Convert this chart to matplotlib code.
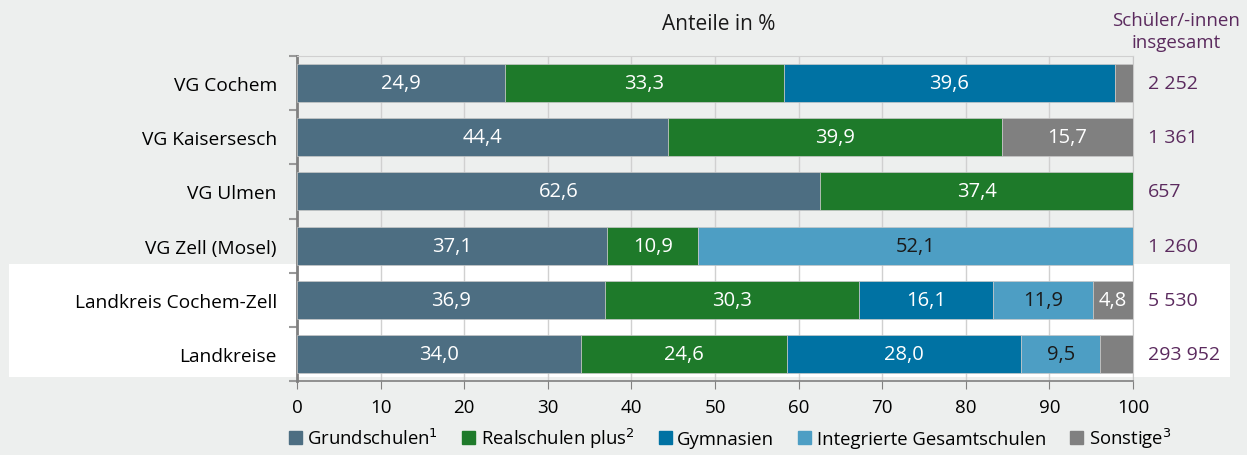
import matplotlib.pyplot as plt
import matplotlib.patches as mpatches
import numpy as np

plt.rcParams['font.family'] = ['Open Sans', 'DejaVu Sans']

regions = ["VG Cochem", "VG Kaisersesch", "VG Ulmen", "VG Zell (Mosel)",
           "Landkreis Cochem-Zell", "Landkreise"]
totals = ["2 252", "1 361", "657", "1 260", "5 530", "293 952"]

grundschulen = [24.9, 44.4, 62.6, 37.1, 36.9, 34.0]
realschulen = [33.3, 39.9, 37.4, 10.9, 30.3, 24.6]
gymnasien = [39.6, 0, 0, 0, 16.1, 28.0]
igs = [0, 0, 0, 52.1, 11.9, 9.5]
sonstige = [2.2, 15.7, 0, 0, 4.8, 3.9]
# welche Werte beschriftet sind
show_sonstige = [False, True, False, False, True, False]

series = [grundschulen, realschulen, gymnasien, igs, sonstige]
names = ["Grundschulen$^1$", "Realschulen plus$^2$", "Gymnasien",
         "Integrierte Gesamtschulen", "Sonstige$^3$"]
colors = ["#4d6e82", "#1e7a2a", "#0072a3", "#4d9ec4", "#808080"]
txtcol = ["white", "white", "white", "#1a1a1a", "white"]

bg = "#edefee"
purple = "#5b2a5e"

fig = plt.figure(figsize=(12.47, 4.56), dpi=100, facecolor=bg)
ax = fig.add_axes([297/1247, 1 - 382/456, 836/1247, 325/456])
ax.set_facecolor("none")
ax.set_zorder(1)

# weisser Streifen hinter den Kreisen
band = mpatches.Rectangle((9/1247, 1 - 378/456), 1221/1247, 113/456,
                          transform=fig.transFigure, facecolor="white",
                          edgecolor="none", zorder=-5)
fig.patches.append(band)

y = np.arange(len(regions))
left = np.zeros(len(regions))
for i, vals in enumerate(series):
    vals = np.array(vals)
    ax.barh(y, vals, left=left, height=0.7, color=colors[i],
            edgecolor="#c8c8c8", linewidth=0.5, zorder=3)
    for j, v in enumerate(vals):
        if v <= 0:
            continue
        if i == 4 and not show_sonstige[j]:
            continue
        ax.text(left[j] + v / 2, y[j], f"{v:.1f}".replace(".", ","),
                ha="center", va="center", color=txtcol[i], fontsize=14.5, zorder=4)
    left += vals

ax.set_xlim(0, 100)
ax.set_ylim(len(regions) - 0.5, -0.5)
ax.set_xticks(np.arange(0, 101, 10))
ax.tick_params(axis="x", direction="out", length=6, color="#808080",
               labelsize=13.5, pad=6)
ax.set_yticks(np.arange(-0.5, len(regions), 1))
ax.set_yticklabels([])
ax.tick_params(axis="y", which="major", direction="out", length=6,
               color="#999999", width=1.5)
ax.set_yticks(y, minor=True)
ax.set_yticklabels(regions, minor=True, fontsize=13.8)
ax.tick_params(axis="y", which="minor", length=0, pad=14.5)

ax.xaxis.grid(True, color="#d0d0d0", linewidth=1, zorder=0)
ax.set_axisbelow(True)
ax.spines["top"].set_color("#d0d0d0")
ax.spines["right"].set_color("#c8c8c8")
ax.spines["left"].set_color("#808080")
ax.spines["left"].set_linewidth(2)
ax.spines["bottom"].set_color("#808080")
ax.spines["bottom"].set_linewidth(1.2)

for j, t in enumerate(totals):
    ax.text(1.0 + 15/836, y[j], t, transform=ax.get_yaxis_transform(),
            ha="left", va="center", color=purple, fontsize=14)

fig.text(719/1247, 1 - 25/456, "Anteile in %", ha="center", va="center",
         fontsize=15, color="#1a1a1a")
fig.text(1176/1247, 1 - 32/456, "Schüler/-innen\ninsgesamt", ha="center",
         va="center", fontsize=13.5, color=purple, linespacing=1.3)

handles = [mpatches.Patch(color=c) for c in colors]
fig.legend(handles, names, loc="center", bbox_to_anchor=(730/1247, 1 - 439/456),
           ncol=5, frameon=False, fontsize=13.3, handlelength=0.7,
           handleheight=0.7, handletextpad=0.3, columnspacing=1.3)

fig.savefig("out.png", dpi=100, facecolor=bg)
